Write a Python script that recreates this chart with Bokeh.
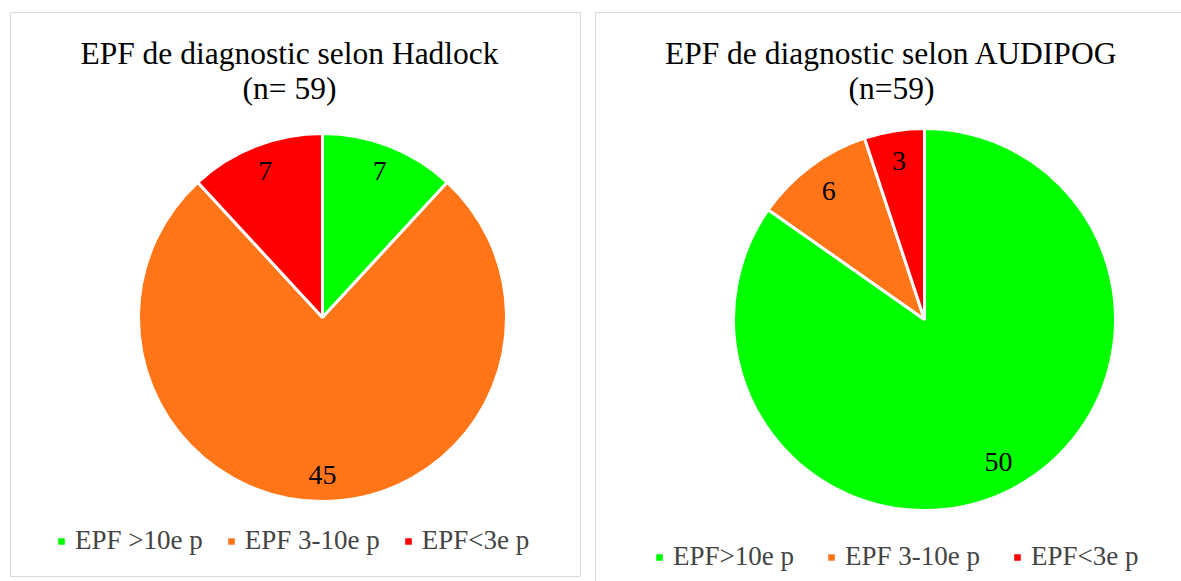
import numpy as np
from bokeh.plotting import figure
from bokeh.models import ColumnDataSource, Range1d, Label, Legend, LegendItem
from bokeh.core.properties import value
from bokeh.embed import file_html
from bokeh.resources import INLINE

# ---- data ----
left_title = ["EPF de diagnostic selon Hadlock", "(n= 59)"]
right_title = ["EPF de diagnostic selon AUDIPOG", "(n=59)"]
left_categories = ["EPF >10e p", "EPF 3-10e p", "EPF<3e p"]
right_categories = ["EPF>10e p", "EPF 3-10e p", "EPF<3e p"]
hadlock_values = [7, 45, 7]
audipog_values = [50, 6, 3]
colors = ["#00ff00", "#ff7518", "#ff0000"]

W, H = 1181, 581
FONT = "Liberation Serif"


def px(page_x):
    return page_x


def py(page_y):
    return H - page_y


p = figure(width=W, height=H, x_range=Range1d(0, W), y_range=Range1d(0, H),
           output_backend="svg", toolbar_location=None,
           x_axis_type=None, y_axis_type=None, min_border=0)
p.grid.visible = False
p.outline_line_color = None
p.background_fill_color = "white"
p.border_fill_color = "white"

# panel frames
p.quad(left=[px(10), px(595)], right=[px(580), px(1200)],
       top=[py(12), py(12)], bottom=[py(576), -60],
       fill_color=None, line_color="#d9d9d9", line_width=1)


def pie(cx, cy, r, vals, cats, label_frac, legend_loc, spacing):
    vals = np.array(vals, dtype=float)
    frac = vals / vals.sum()
    cum = np.concatenate([[0.0], np.cumsum(frac)])
    start = np.pi / 2 - cum[:-1] * 2 * np.pi
    end = np.pi / 2 - cum[1:] * 2 * np.pi
    mid = (start + end) / 2
    src = ColumnDataSource(dict(
        start=start, end=end, color=colors, cat=cats,
        lx=cx + label_frac * r * np.cos(mid),
        ly=cy + label_frac * r * np.sin(mid),
        txt=[str(int(v)) for v in vals]))
    wr = p.wedge(x=cx, y=cy, radius=r, start_angle="start", end_angle="end",
                 direction="clock", fill_color="color", line_color="white",
                 line_width=3, source=src)
    p.text(x="lx", y="ly", text="txt", source=src, text_align="center",
           text_baseline="middle", text_font=value(FONT),
           text_font_size="28px", text_color="black")
    legend = Legend(items=[LegendItem(label=c, renderers=[wr], index=i)
                           for i, c in enumerate(cats)],
                    orientation="horizontal", location=legend_loc,
                    padding=0, margin=0, spacing=spacing,
                    glyph_width=12, glyph_height=12, label_standoff=8,
                    label_text_font=FONT, label_text_font_size="27px",
                    border_line_color=None, background_fill_alpha=0)
    p.add_layout(legend)


pie(px(322), py(317), 184, hadlock_values, left_categories, 0.855, (55, 25), 22)
pie(px(924), py(319), 191, audipog_values, right_categories, 0.84, (653, 9), 31)

for x, title in ((px(289), left_title), (px(891), right_title)):
    for k, line in enumerate(title):
        p.add_layout(Label(x=x, y=py(53 + 35 * k), text=line,
                           text_align="center", text_baseline="alphabetic",
                           text_font=FONT, text_font_size="31.5px",
                           text_color="black"))

open("out.html", "w").write(file_html(p, INLINE))
